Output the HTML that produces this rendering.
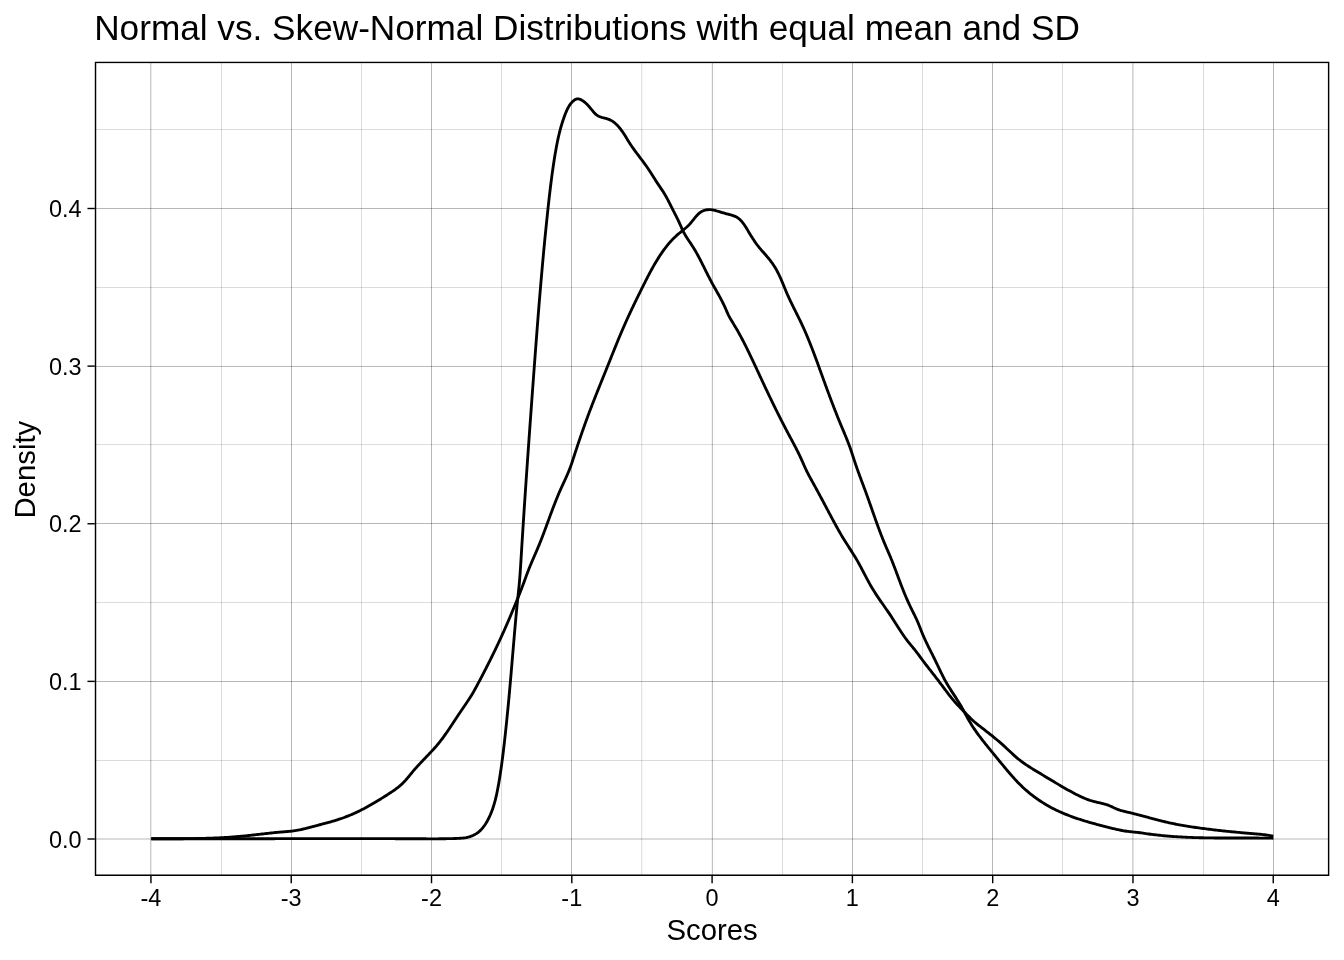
<!DOCTYPE html>
<html><head><meta charset="utf-8"><style>
html,body{margin:0;padding:0;background:#fff;}
svg{display:block;}
#wrap{will-change:transform;}
text{font-family:"Liberation Sans",sans-serif;fill:#000;}
</style></head><body><div id="wrap">
<svg width="1344" height="960" viewBox="0 0 1344 960">
<rect width="1344" height="960" fill="#fff"/>
<defs><clipPath id="pc"><rect x="94.8" y="61.7" width="1234.53" height="814.20"/></clipPath></defs>
<g clip-path="url(#pc)">
<g fill="#000"><rect x="221" y="61.70" width="1" height="814.20" fill-opacity="0.142"/><rect x="361" y="61.70" width="1" height="814.20" fill-opacity="0.143"/><rect x="501" y="61.70" width="1" height="814.20" fill-opacity="0.143"/><rect x="641" y="61.70" width="1" height="814.20" fill-opacity="0.116"/><rect x="642" y="61.70" width="1" height="814.20" fill-opacity="0.026"/><rect x="782" y="61.70" width="1" height="814.20" fill-opacity="0.142"/><rect x="922" y="61.70" width="1" height="814.20" fill-opacity="0.142"/><rect x="1062" y="61.70" width="1" height="814.20" fill-opacity="0.142"/><rect x="1203" y="61.70" width="1" height="814.20" fill-opacity="0.142"/><rect x="94.80" y="760" width="1234.53" height="1" fill-opacity="0.142"/><rect x="94.80" y="602" width="1234.53" height="1" fill-opacity="0.142"/><rect x="94.80" y="444" width="1234.53" height="1" fill-opacity="0.134"/><rect x="94.80" y="445" width="1234.53" height="1" fill-opacity="0.009"/><rect x="94.80" y="287" width="1234.53" height="1" fill-opacity="0.143"/><rect x="94.80" y="129" width="1234.53" height="1" fill-opacity="0.142"/></g>
<g fill="#000"><rect x="150" y="61.70" width="1" height="814.20" fill-opacity="0.202"/><rect x="151" y="61.70" width="1" height="814.20" fill-opacity="0.083"/><rect x="291" y="61.70" width="1" height="814.20" fill-opacity="0.285"/><rect x="431" y="61.70" width="1" height="814.20" fill-opacity="0.285"/><rect x="571" y="61.70" width="1" height="814.20" fill-opacity="0.285"/><rect x="711" y="61.70" width="1" height="814.20" fill-opacity="0.043"/><rect x="712" y="61.70" width="1" height="814.20" fill-opacity="0.243"/><rect x="852" y="61.70" width="1" height="814.20" fill-opacity="0.285"/><rect x="992" y="61.70" width="1" height="814.20" fill-opacity="0.285"/><rect x="1132" y="61.70" width="1" height="814.20" fill-opacity="0.172"/><rect x="1133" y="61.70" width="1" height="814.20" fill-opacity="0.112"/><rect x="1273" y="61.70" width="1" height="814.20" fill-opacity="0.285"/><rect x="94.80" y="838" width="1234.53" height="1" fill-opacity="0.143"/><rect x="94.80" y="839" width="1234.53" height="1" fill-opacity="0.143"/><rect x="94.80" y="681" width="1234.53" height="1" fill-opacity="0.285"/><rect x="94.80" y="523" width="1234.53" height="1" fill-opacity="0.285"/><rect x="94.80" y="365" width="1234.53" height="1" fill-opacity="0.017"/><rect x="94.80" y="366" width="1234.53" height="1" fill-opacity="0.267"/><rect x="94.80" y="208" width="1234.53" height="1" fill-opacity="0.285"/></g>
<g fill="none" stroke="#000" stroke-width="2.85" stroke-linejoin="round" stroke-linecap="butt">
<path d="M151.30,838.70 L152.80,838.70 L154.30,838.71 L155.80,838.71 L157.30,838.72 L158.80,838.72 L160.30,838.72 L161.80,838.73 L163.30,838.73 L164.81,838.74 L166.31,838.74 L167.81,838.74 L169.31,838.74 L170.81,838.74 L172.31,838.74 L173.81,838.74 L175.31,838.74 L176.81,838.73 L178.31,838.73 L179.81,838.72 L181.31,838.71 L182.81,838.70 L184.31,838.69 L185.81,838.68 L187.31,838.66 L188.81,838.64 L190.31,838.63 L191.81,838.61 L193.31,838.58 L194.82,838.56 L196.32,838.53 L197.82,838.50 L199.32,838.47 L200.82,838.44 L202.32,838.40 L203.82,838.36 L205.32,838.32 L206.82,838.27 L208.32,838.22 L209.82,838.17 L211.32,838.12 L212.81,838.06 L214.31,838.00 L215.81,837.94 L217.31,837.87 L218.81,837.80 L220.31,837.72 L221.81,837.65 L223.31,837.56 L224.80,837.48 L226.30,837.39 L227.80,837.30 L229.30,837.20 L230.79,837.10 L232.29,836.99 L233.79,836.88 L235.28,836.77 L236.78,836.65 L238.28,836.52 L239.77,836.39 L241.27,836.26 L242.76,836.12 L244.25,835.98 L245.75,835.83 L247.24,835.68 L248.73,835.52 L250.22,835.36 L251.72,835.20 L253.21,835.03 L254.70,834.87 L256.19,834.70 L257.68,834.53 L259.17,834.35 L260.66,834.18 L262.15,834.01 L263.64,833.84 L265.13,833.67 L266.62,833.50 L268.11,833.33 L269.61,833.17 L271.10,833.00 L272.59,832.85 L274.08,832.69 L275.58,832.54 L277.07,832.40 L278.56,832.26 L280.06,832.13 L281.55,832.00 L283.05,831.88 L284.55,831.76 L286.04,831.65 L287.54,831.54 L289.03,831.41 L290.53,831.26 L292.02,831.09 L293.51,830.90 L294.99,830.68 L296.47,830.43 L297.95,830.16 L299.42,829.87 L300.89,829.57 L302.35,829.24 L303.81,828.90 L305.27,828.55 L306.73,828.19 L308.18,827.82 L309.64,827.44 L311.09,827.06 L312.54,826.67 L313.99,826.29 L315.44,825.90 L316.89,825.51 L318.34,825.13 L319.79,824.75 L321.24,824.36 L322.69,823.98 L324.14,823.60 L325.59,823.21 L327.04,822.82 L328.49,822.42 L329.93,822.02 L331.38,821.61 L332.82,821.20 L334.26,820.77 L335.69,820.34 L337.13,819.90 L338.56,819.44 L339.98,818.97 L341.40,818.49 L342.82,817.99 L344.23,817.48 L345.63,816.95 L347.03,816.40 L348.42,815.84 L349.81,815.27 L351.19,814.69 L352.57,814.09 L353.94,813.48 L355.31,812.86 L356.67,812.23 L358.03,811.59 L359.38,810.94 L360.72,810.27 L362.06,809.60 L363.40,808.91 L364.73,808.22 L366.05,807.51 L367.37,806.80 L368.68,806.07 L369.99,805.34 L371.29,804.59 L372.59,803.84 L373.89,803.08 L375.18,802.31 L376.46,801.54 L377.74,800.76 L379.02,799.97 L380.30,799.18 L381.57,798.39 L382.84,797.59 L384.11,796.79 L385.38,795.99 L386.65,795.18 L387.91,794.38 L389.17,793.56 L390.43,792.74 L391.68,791.92 L392.92,791.07 L394.16,790.22 L395.38,789.35 L396.58,788.45 L397.77,787.54 L398.95,786.60 L400.10,785.64 L401.22,784.65 L402.32,783.63 L403.39,782.58 L404.43,781.49 L405.45,780.39 L406.44,779.26 L407.41,778.12 L408.37,776.97 L409.33,775.81 L410.28,774.65 L411.23,773.49 L412.19,772.33 L413.15,771.18 L414.13,770.05 L415.11,768.91 L416.11,767.79 L417.11,766.67 L418.12,765.56 L419.13,764.46 L420.16,763.36 L421.19,762.27 L422.22,761.18 L423.25,760.09 L424.29,759.01 L425.33,757.92 L426.37,756.84 L427.41,755.76 L428.44,754.67 L429.48,753.58 L430.51,752.49 L431.53,751.40 L432.55,750.30 L433.56,749.19 L434.57,748.07 L435.56,746.95 L436.55,745.82 L437.52,744.67 L438.48,743.52 L439.43,742.36 L440.36,741.18 L441.28,739.99 L442.18,738.80 L443.07,737.59 L443.96,736.38 L444.83,735.16 L445.69,733.93 L446.54,732.69 L447.39,731.46 L448.23,730.21 L449.07,728.97 L449.90,727.72 L450.73,726.47 L451.56,725.22 L452.38,723.96 L453.21,722.71 L454.03,721.46 L454.86,720.20 L455.68,718.95 L456.51,717.70 L457.34,716.45 L458.17,715.20 L459.00,713.95 L459.84,712.71 L460.69,711.47 L461.54,710.23 L462.39,708.99 L463.24,707.76 L464.10,706.53 L464.95,705.29 L465.80,704.05 L466.64,702.81 L467.48,701.57 L468.31,700.32 L469.13,699.06 L469.94,697.80 L470.74,696.53 L471.53,695.25 L472.30,693.96 L473.06,692.67 L473.80,691.37 L474.54,690.06 L475.27,688.75 L475.99,687.43 L476.70,686.11 L477.41,684.79 L478.11,683.46 L478.81,682.13 L479.51,680.81 L480.21,679.48 L480.91,678.15 L481.60,676.82 L482.30,675.49 L482.99,674.16 L483.68,672.83 L484.37,671.49 L485.05,670.16 L485.74,668.82 L486.42,667.49 L487.10,666.15 L487.78,664.81 L488.46,663.47 L489.13,662.13 L489.81,660.79 L490.48,659.45 L491.14,658.10 L491.81,656.76 L492.47,655.41 L493.13,654.07 L493.79,652.72 L494.44,651.37 L495.10,650.02 L495.75,648.66 L496.39,647.31 L497.04,645.95 L497.68,644.60 L498.32,643.24 L498.95,641.88 L499.58,640.52 L500.21,639.16 L500.84,637.79 L501.46,636.43 L502.08,635.06 L502.70,633.69 L503.32,632.33 L503.93,630.96 L504.54,629.59 L505.15,628.21 L505.75,626.84 L506.36,625.47 L506.96,624.09 L507.55,622.71 L508.15,621.34 L508.74,619.96 L509.33,618.58 L509.92,617.20 L510.51,615.82 L511.09,614.44 L511.68,613.05 L512.26,611.67 L512.83,610.28 L513.41,608.90 L513.98,607.51 L514.56,606.13 L515.13,604.74 L515.69,603.35 L516.26,601.96 L516.83,600.57 L517.39,599.18 L517.95,597.79 L518.51,596.39 L519.07,595.00 L519.62,593.61 L520.17,592.21 L520.72,590.81 L521.26,589.41 L521.80,588.01 L522.34,586.61 L522.87,585.21 L523.39,583.80 L523.91,582.39 L524.42,580.98 L524.94,579.57 L525.45,578.17 L525.97,576.76 L526.48,575.35 L527.01,573.94 L527.54,572.54 L528.07,571.13 L528.62,569.74 L529.17,568.34 L529.73,566.95 L530.30,565.56 L530.88,564.18 L531.46,562.80 L532.05,561.41 L532.64,560.04 L533.24,558.66 L533.83,557.28 L534.43,555.90 L535.03,554.53 L535.63,553.15 L536.22,551.77 L536.81,550.39 L537.40,549.01 L537.98,547.63 L538.56,546.25 L539.13,544.86 L539.70,543.47 L540.26,542.08 L540.81,540.68 L541.36,539.28 L541.90,537.89 L542.44,536.49 L542.98,535.08 L543.51,533.68 L544.04,532.28 L544.56,530.87 L545.09,529.47 L545.61,528.06 L546.13,526.65 L546.65,525.24 L547.16,523.83 L547.68,522.42 L548.20,521.02 L548.71,519.61 L549.23,518.20 L549.75,516.79 L550.26,515.38 L550.78,513.97 L551.31,512.57 L551.83,511.16 L552.36,509.76 L552.89,508.35 L553.42,506.95 L553.96,505.55 L554.50,504.15 L555.05,502.75 L555.60,501.36 L556.16,499.96 L556.72,498.57 L557.28,497.18 L557.86,495.80 L558.44,494.41 L559.03,493.03 L559.62,491.65 L560.23,490.28 L560.84,488.91 L561.45,487.54 L562.08,486.18 L562.70,484.81 L563.33,483.45 L563.96,482.09 L564.59,480.73 L565.22,479.36 L565.84,478.00 L566.45,476.63 L567.06,475.26 L567.66,473.88 L568.25,472.50 L568.82,471.11 L569.38,469.72 L569.92,468.32 L570.45,466.92 L570.96,465.51 L571.45,464.09 L571.94,462.67 L572.41,461.24 L572.88,459.82 L573.34,458.39 L573.80,456.96 L574.27,455.54 L574.73,454.11 L575.20,452.68 L575.67,451.26 L576.13,449.83 L576.61,448.41 L577.08,446.98 L577.55,445.56 L578.03,444.13 L578.50,442.71 L578.98,441.29 L579.46,439.87 L579.94,438.45 L580.43,437.03 L580.91,435.61 L581.40,434.19 L581.89,432.77 L582.38,431.35 L582.88,429.94 L583.38,428.52 L583.88,427.11 L584.38,425.69 L584.88,424.28 L585.39,422.87 L585.90,421.46 L586.41,420.04 L586.93,418.64 L587.45,417.23 L587.97,415.82 L588.49,414.41 L589.02,413.01 L589.55,411.61 L590.08,410.20 L590.62,408.80 L591.15,407.40 L591.69,406.00 L592.24,404.60 L592.78,403.20 L593.32,401.80 L593.87,400.41 L594.42,399.01 L594.97,397.61 L595.52,396.22 L596.08,394.82 L596.63,393.43 L597.19,392.04 L597.75,390.64 L598.30,389.25 L598.86,387.86 L599.42,386.47 L599.98,385.07 L600.54,383.68 L601.11,382.29 L601.67,380.90 L602.23,379.51 L602.79,378.12 L603.35,376.72 L603.92,375.33 L604.48,373.94 L605.04,372.55 L605.60,371.16 L606.16,369.77 L606.72,368.37 L607.28,366.98 L607.84,365.59 L608.40,364.20 L608.95,362.80 L609.51,361.41 L610.07,360.02 L610.62,358.62 L611.18,357.23 L611.74,355.84 L612.29,354.44 L612.85,353.05 L613.41,351.66 L613.97,350.26 L614.53,348.87 L615.09,347.48 L615.66,346.09 L616.22,344.70 L616.79,343.31 L617.35,341.92 L617.92,340.53 L618.49,339.15 L619.07,337.76 L619.65,336.37 L620.23,334.99 L620.81,333.61 L621.39,332.22 L621.98,330.84 L622.57,329.46 L623.17,328.09 L623.76,326.71 L624.37,325.34 L624.97,323.96 L625.58,322.59 L626.19,321.22 L626.81,319.85 L627.43,318.49 L628.06,317.12 L628.68,315.76 L629.31,314.40 L629.95,313.04 L630.58,311.68 L631.22,310.32 L631.86,308.97 L632.51,307.61 L633.16,306.26 L633.80,304.90 L634.46,303.55 L635.11,302.20 L635.77,300.85 L636.42,299.50 L637.08,298.15 L637.74,296.81 L638.40,295.46 L639.07,294.11 L639.73,292.77 L640.40,291.43 L641.07,290.08 L641.73,288.74 L642.40,287.39 L643.07,286.05 L643.74,284.71 L644.42,283.37 L645.09,282.03 L645.77,280.69 L646.45,279.35 L647.13,278.01 L647.82,276.68 L648.51,275.35 L649.21,274.02 L649.91,272.69 L650.62,271.37 L651.33,270.05 L652.05,268.73 L652.78,267.42 L653.52,266.12 L654.26,264.81 L655.02,263.52 L655.78,262.22 L656.55,260.94 L657.33,259.66 L658.13,258.38 L658.93,257.12 L659.74,255.85 L660.57,254.60 L661.41,253.36 L662.26,252.12 L663.13,250.90 L664.01,249.68 L664.90,248.48 L665.81,247.28 L666.73,246.10 L667.68,244.93 L668.64,243.78 L669.61,242.64 L670.61,241.52 L671.62,240.41 L672.66,239.32 L673.71,238.25 L674.78,237.20 L675.87,236.18 L676.99,235.17 L678.12,234.19 L679.27,233.23 L680.43,232.28 L681.60,231.33 L682.77,230.39 L683.93,229.44 L685.08,228.48 L686.22,227.50 L687.33,226.49 L688.41,225.45 L689.46,224.38 L690.47,223.27 L691.44,222.12 L692.39,220.96 L693.32,219.79 L694.26,218.61 L695.20,217.45 L696.17,216.30 L697.18,215.19 L698.23,214.12 L699.35,213.12 L700.54,212.21 L701.81,211.41 L703.16,210.76 L704.58,210.27 L706.04,209.92 L707.53,209.72 L709.02,209.64 L710.52,209.68 L712.02,209.84 L713.49,210.09 L714.96,210.43 L716.40,210.83 L717.84,211.25 L719.28,211.69 L720.71,212.13 L722.15,212.56 L723.59,212.98 L725.04,213.38 L726.49,213.76 L727.94,214.13 L729.40,214.50 L730.84,214.90 L732.28,215.33 L733.70,215.82 L735.09,216.39 L736.43,217.06 L737.72,217.83 L738.93,218.72 L740.06,219.70 L741.11,220.77 L742.11,221.89 L743.04,223.07 L743.92,224.28 L744.76,225.52 L745.58,226.78 L746.36,228.06 L747.14,229.35 L747.91,230.63 L748.68,231.92 L749.45,233.21 L750.22,234.50 L751.00,235.78 L751.79,237.05 L752.59,238.32 L753.41,239.58 L754.24,240.83 L755.09,242.07 L755.95,243.30 L756.84,244.50 L757.75,245.70 L758.69,246.87 L759.64,248.03 L760.61,249.17 L761.59,250.31 L762.58,251.44 L763.57,252.56 L764.57,253.69 L765.56,254.81 L766.54,255.95 L767.52,257.09 L768.48,258.24 L769.43,259.40 L770.35,260.59 L771.25,261.79 L772.13,263.00 L772.98,264.24 L773.81,265.49 L774.62,266.75 L775.40,268.04 L776.15,269.33 L776.88,270.64 L777.59,271.97 L778.27,273.30 L778.93,274.65 L779.57,276.01 L780.20,277.37 L780.81,278.74 L781.41,280.12 L782.00,281.50 L782.58,282.88 L783.15,284.27 L783.72,285.66 L784.29,287.04 L784.86,288.43 L785.43,289.82 L786.01,291.20 L786.60,292.59 L787.19,293.96 L787.79,295.34 L788.41,296.71 L789.03,298.07 L789.67,299.43 L790.31,300.79 L790.95,302.14 L791.61,303.49 L792.27,304.84 L792.93,306.19 L793.60,307.53 L794.27,308.87 L794.94,310.22 L795.61,311.56 L796.28,312.90 L796.95,314.24 L797.62,315.59 L798.29,316.93 L798.95,318.28 L799.61,319.62 L800.27,320.97 L800.91,322.33 L801.56,323.68 L802.19,325.04 L802.82,326.41 L803.44,327.77 L804.05,329.14 L804.66,330.51 L805.27,331.89 L805.86,333.26 L806.45,334.64 L807.04,336.03 L807.62,337.41 L808.19,338.80 L808.76,340.18 L809.32,341.57 L809.88,342.97 L810.44,344.36 L810.99,345.76 L811.54,347.15 L812.08,348.55 L812.62,349.95 L813.16,351.35 L813.69,352.76 L814.22,354.16 L814.75,355.56 L815.27,356.97 L815.80,358.38 L816.32,359.78 L816.83,361.19 L817.35,362.60 L817.86,364.01 L818.38,365.42 L818.89,366.83 L819.40,368.24 L819.91,369.65 L820.42,371.06 L820.93,372.48 L821.44,373.89 L821.95,375.30 L822.46,376.71 L822.97,378.12 L823.48,379.53 L823.99,380.94 L824.51,382.35 L825.02,383.76 L825.54,385.17 L826.05,386.58 L826.57,387.99 L827.09,389.40 L827.61,390.81 L828.13,392.21 L828.65,393.62 L829.18,395.02 L829.70,396.43 L830.23,397.83 L830.76,399.24 L831.29,400.64 L831.82,402.04 L832.36,403.45 L832.90,404.85 L833.44,406.25 L833.98,407.65 L834.52,409.05 L835.07,410.44 L835.62,411.84 L836.17,413.24 L836.72,414.63 L837.27,416.03 L837.83,417.42 L838.39,418.81 L838.96,420.20 L839.52,421.59 L840.09,422.98 L840.66,424.37 L841.24,425.75 L841.82,427.14 L842.40,428.52 L842.98,429.90 L843.56,431.29 L844.14,432.67 L844.72,434.06 L845.30,435.44 L845.87,436.83 L846.44,438.22 L847.00,439.61 L847.55,441.00 L848.10,442.40 L848.64,443.80 L849.17,445.20 L849.69,446.61 L850.19,448.03 L850.69,449.44 L851.17,450.86 L851.65,452.29 L852.12,453.71 L852.58,455.14 L853.05,456.56 L853.51,457.99 L853.98,459.42 L854.45,460.84 L854.93,462.26 L855.41,463.69 L855.89,465.11 L856.38,466.53 L856.87,467.94 L857.37,469.36 L857.87,470.77 L858.38,472.18 L858.89,473.59 L859.41,475.00 L859.93,476.41 L860.45,477.82 L860.97,479.22 L861.50,480.63 L862.03,482.03 L862.55,483.44 L863.08,484.84 L863.61,486.25 L864.13,487.66 L864.66,489.06 L865.18,490.47 L865.70,491.88 L866.21,493.29 L866.72,494.70 L867.23,496.11 L867.74,497.52 L868.24,498.93 L868.74,500.35 L869.25,501.76 L869.74,503.18 L870.24,504.59 L870.74,506.01 L871.24,507.43 L871.73,508.84 L872.23,510.26 L872.72,511.67 L873.22,513.09 L873.72,514.51 L874.22,515.92 L874.72,517.34 L875.22,518.75 L875.72,520.16 L876.23,521.58 L876.73,522.99 L877.24,524.40 L877.76,525.81 L878.27,527.22 L878.79,528.63 L879.32,530.03 L879.84,531.44 L880.37,532.84 L880.91,534.24 L881.45,535.64 L882.00,537.04 L882.55,538.43 L883.11,539.83 L883.68,541.22 L884.25,542.60 L884.83,543.99 L885.41,545.37 L886.00,546.75 L886.60,548.13 L887.19,549.51 L887.79,550.88 L888.38,552.26 L888.98,553.64 L889.57,555.02 L890.16,556.40 L890.74,557.78 L891.31,559.17 L891.88,560.56 L892.43,561.95 L892.99,563.35 L893.53,564.74 L894.07,566.14 L894.61,567.55 L895.14,568.95 L895.67,570.35 L896.19,571.76 L896.71,573.17 L897.24,574.57 L897.76,575.98 L898.28,577.39 L898.80,578.79 L899.33,580.20 L899.85,581.61 L900.38,583.01 L900.92,584.41 L901.45,585.81 L902.00,587.21 L902.54,588.61 L903.10,590.00 L903.66,591.40 L904.22,592.79 L904.79,594.17 L905.37,595.56 L905.96,596.94 L906.55,598.32 L907.15,599.69 L907.76,601.07 L908.37,602.43 L909.00,603.80 L909.63,605.16 L910.27,606.51 L910.92,607.87 L911.58,609.21 L912.25,610.56 L912.93,611.90 L913.60,613.24 L914.27,614.58 L914.94,615.92 L915.60,617.27 L916.24,618.63 L916.86,620.00 L917.46,621.37 L918.05,622.75 L918.62,624.14 L919.18,625.53 L919.73,626.93 L920.28,628.32 L920.83,629.72 L921.38,631.12 L921.94,632.51 L922.51,633.90 L923.09,635.28 L923.69,636.65 L924.30,638.03 L924.92,639.39 L925.55,640.75 L926.19,642.11 L926.84,643.46 L927.50,644.81 L928.16,646.16 L928.82,647.51 L929.49,648.85 L930.16,650.19 L930.84,651.53 L931.51,652.87 L932.19,654.21 L932.86,655.55 L933.53,656.90 L934.20,658.24 L934.86,659.59 L935.51,660.94 L936.17,662.29 L936.81,663.64 L937.46,665.00 L938.10,666.35 L938.75,667.71 L939.39,669.06 L940.04,670.41 L940.69,671.77 L941.35,673.11 L942.02,674.46 L942.69,675.80 L943.37,677.14 L944.06,678.47 L944.76,679.80 L945.48,681.12 L946.21,682.43 L946.95,683.73 L947.71,685.03 L948.48,686.31 L949.28,687.59 L950.08,688.85 L950.89,690.12 L951.71,691.37 L952.53,692.63 L953.35,693.88 L954.18,695.14 L955.00,696.39 L955.82,697.65 L956.63,698.91 L957.43,700.18 L958.23,701.45 L959.02,702.73 L959.80,704.01 L960.57,705.30 L961.32,706.59 L962.07,707.90 L962.80,709.20 L963.53,710.52 L964.24,711.84 L964.95,713.16 L965.66,714.49 L966.37,715.81 L967.08,717.13 L967.80,718.44 L968.54,719.75 L969.29,721.05 L970.05,722.34 L970.84,723.62 L971.63,724.89 L972.44,726.16 L973.26,727.41 L974.09,728.66 L974.94,729.90 L975.80,731.13 L976.66,732.36 L977.54,733.58 L978.43,734.79 L979.32,735.99 L980.22,737.19 L981.13,738.39 L982.05,739.58 L982.97,740.76 L983.89,741.94 L984.82,743.12 L985.76,744.29 L986.70,745.46 L987.64,746.63 L988.59,747.79 L989.54,748.96 L990.48,750.12 L991.43,751.28 L992.38,752.44 L993.33,753.60 L994.28,754.76 L995.23,755.93 L996.18,757.09 L997.14,758.25 L998.09,759.41 L999.04,760.57 L999.99,761.73 L1000.95,762.89 L1001.90,764.04 L1002.86,765.20 L1003.82,766.35 L1004.78,767.51 L1005.74,768.66 L1006.70,769.81 L1007.67,770.96 L1008.64,772.10 L1009.61,773.24 L1010.59,774.38 L1011.58,775.51 L1012.57,776.64 L1013.57,777.76 L1014.57,778.87 L1015.59,779.98 L1016.61,781.07 L1017.65,782.16 L1018.69,783.24 L1019.75,784.30 L1020.82,785.36 L1021.90,786.40 L1022.99,787.42 L1024.10,788.44 L1025.21,789.44 L1026.34,790.43 L1027.48,791.41 L1028.63,792.38 L1029.79,793.33 L1030.96,794.27 L1032.14,795.19 L1033.33,796.10 L1034.53,797.00 L1035.74,797.89 L1036.96,798.76 L1038.19,799.62 L1039.43,800.46 L1040.68,801.30 L1041.94,802.11 L1043.21,802.92 L1044.49,803.71 L1045.77,804.48 L1047.06,805.24 L1048.37,805.99 L1049.68,806.72 L1050.99,807.44 L1052.32,808.14 L1053.65,808.83 L1054.99,809.50 L1056.34,810.16 L1057.70,810.81 L1059.06,811.44 L1060.43,812.05 L1061.80,812.66 L1063.18,813.25 L1064.56,813.83 L1065.95,814.40 L1067.35,814.95 L1068.74,815.49 L1070.15,816.03 L1071.55,816.55 L1072.97,817.06 L1074.38,817.56 L1075.80,818.05 L1077.22,818.53 L1078.64,819.01 L1080.07,819.47 L1081.50,819.93 L1082.93,820.38 L1084.36,820.82 L1085.80,821.25 L1087.24,821.68 L1088.68,822.10 L1090.12,822.52 L1091.57,822.93 L1093.01,823.33 L1094.46,823.73 L1095.90,824.13 L1097.35,824.52 L1098.80,824.91 L1100.25,825.29 L1101.70,825.67 L1103.16,826.05 L1104.61,826.43 L1106.06,826.80 L1107.52,827.17 L1108.97,827.54 L1110.42,827.91 L1111.88,828.27 L1113.34,828.63 L1114.80,828.97 L1116.26,829.31 L1117.73,829.63 L1119.19,829.94 L1120.67,830.24 L1122.14,830.52 L1123.62,830.78 L1125.10,831.03 L1126.58,831.25 L1128.07,831.45 L1129.56,831.63 L1131.05,831.79 L1132.54,831.94 L1134.04,832.08 L1135.53,832.22 L1137.02,832.37 L1138.52,832.54 L1140.00,832.72 L1141.49,832.93 L1142.97,833.16 L1144.46,833.39 L1145.94,833.61 L1147.43,833.82 L1148.91,834.03 L1150.40,834.22 L1151.89,834.42 L1153.38,834.60 L1154.87,834.78 L1156.36,834.96 L1157.85,835.12 L1159.34,835.28 L1160.83,835.44 L1162.33,835.59 L1163.82,835.73 L1165.31,835.87 L1166.81,836.00 L1168.30,836.13 L1169.80,836.25 L1171.30,836.36 L1172.79,836.47 L1174.29,836.58 L1175.79,836.68 L1177.28,836.78 L1178.78,836.87 L1180.28,836.95 L1181.78,837.04 L1183.28,837.11 L1184.78,837.19 L1186.27,837.26 L1187.77,837.32 L1189.27,837.39 L1190.77,837.44 L1192.27,837.50 L1193.77,837.55 L1195.27,837.60 L1196.77,837.64 L1198.27,837.68 L1199.77,837.72 L1201.27,837.76 L1202.77,837.79 L1204.27,837.82 L1205.77,837.85 L1207.27,837.87 L1208.77,837.89 L1210.27,837.91 L1211.77,837.93 L1213.27,837.95 L1214.77,837.96 L1216.28,837.97 L1217.78,837.98 L1219.28,837.99 L1220.78,838.00 L1222.28,838.00 L1223.78,838.01 L1225.28,838.01 L1226.78,838.02 L1228.28,838.02 L1229.78,838.02 L1231.28,838.02 L1232.78,838.02 L1234.28,838.02 L1235.78,838.02 L1237.28,838.02 L1238.78,838.01 L1240.28,838.01 L1241.78,838.01 L1243.29,838.01 L1244.79,838.01 L1246.29,838.01 L1247.79,838.01 L1249.29,838.01 L1250.79,838.01 L1252.29,838.02 L1253.79,838.02 L1255.29,838.03 L1256.79,838.03 L1258.29,838.04 L1259.79,838.05 L1261.29,838.06 L1262.79,838.07 L1264.29,838.09 L1265.79,838.11 L1267.29,838.12 L1268.79,838.15 L1270.29,838.17 L1271.79,838.19 L1273.30,838.22"/>
<path d="M151.30,838.70 L152.80,838.70 L154.30,838.70 L155.80,838.71 L157.30,838.71 L158.80,838.71 L160.30,838.71 L161.80,838.72 L163.30,838.72 L164.80,838.72 L166.30,838.72 L167.80,838.73 L169.30,838.73 L170.80,838.73 L172.30,838.73 L173.80,838.74 L175.30,838.74 L176.80,838.74 L178.30,838.74 L179.80,838.74 L181.30,838.74 L182.80,838.74 L184.30,838.75 L185.80,838.75 L187.30,838.75 L188.80,838.75 L190.30,838.75 L191.80,838.75 L193.30,838.75 L194.80,838.75 L196.30,838.75 L197.80,838.75 L199.30,838.75 L200.80,838.75 L202.30,838.75 L203.80,838.75 L205.30,838.75 L206.80,838.75 L208.30,838.75 L209.80,838.75 L211.30,838.75 L212.80,838.75 L214.30,838.75 L215.80,838.75 L217.30,838.75 L218.80,838.75 L220.30,838.75 L221.80,838.75 L223.30,838.75 L224.80,838.75 L226.30,838.74 L227.80,838.74 L229.30,838.74 L230.80,838.74 L232.30,838.74 L233.80,838.74 L235.30,838.74 L236.80,838.74 L238.30,838.73 L239.80,838.73 L241.30,838.73 L242.80,838.73 L244.30,838.73 L245.80,838.73 L247.30,838.73 L248.80,838.72 L250.30,838.72 L251.80,838.72 L253.30,838.72 L254.80,838.72 L256.30,838.72 L257.80,838.71 L259.30,838.71 L260.80,838.71 L262.30,838.71 L263.80,838.71 L265.30,838.71 L266.80,838.70 L268.30,838.70 L269.80,838.70 L271.30,838.70 L272.80,838.70 L274.30,838.70 L275.80,838.69 L277.30,838.69 L278.80,838.69 L280.30,838.69 L281.80,838.69 L283.30,838.68 L284.80,838.68 L286.30,838.68 L287.80,838.68 L289.30,838.68 L290.80,838.68 L292.30,838.67 L293.80,838.67 L295.30,838.67 L296.80,838.67 L298.30,838.67 L299.80,838.67 L301.30,838.67 L302.80,838.66 L304.30,838.66 L305.80,838.66 L307.30,838.66 L308.80,838.66 L310.30,838.66 L311.80,838.66 L313.30,838.65 L314.80,838.65 L316.30,838.65 L317.80,838.65 L319.30,838.65 L320.80,838.65 L322.30,838.65 L323.80,838.65 L325.30,838.65 L326.80,838.65 L328.30,838.64 L329.80,838.64 L331.30,838.64 L332.80,838.64 L334.30,838.64 L335.80,838.64 L337.30,838.64 L338.80,838.64 L340.30,838.64 L341.80,838.64 L343.30,838.64 L344.80,838.64 L346.30,838.64 L347.80,838.64 L349.30,838.64 L350.80,838.64 L352.30,838.64 L353.80,838.64 L355.30,838.64 L356.80,838.64 L358.30,838.64 L359.80,838.64 L361.30,838.65 L362.80,838.65 L364.30,838.65 L365.80,838.65 L367.30,838.65 L368.80,838.65 L370.30,838.65 L371.80,838.66 L373.30,838.66 L374.80,838.66 L376.30,838.66 L377.80,838.66 L379.30,838.66 L380.80,838.67 L382.30,838.67 L383.80,838.67 L385.30,838.67 L386.80,838.68 L388.30,838.68 L389.80,838.68 L391.31,838.69 L392.81,838.69 L394.31,838.69 L395.81,838.70 L397.31,838.70 L398.81,838.70 L400.31,838.71 L401.81,838.71 L403.31,838.72 L404.81,838.72 L406.31,838.72 L407.81,838.73 L409.31,838.73 L410.81,838.74 L412.31,838.74 L413.81,838.75 L415.31,838.75 L416.81,838.76 L418.31,838.77 L419.81,838.77 L421.31,838.78 L422.81,838.78 L424.31,838.79 L425.81,838.79 L427.31,838.80 L428.81,838.80 L430.31,838.81 L431.81,838.81 L433.31,838.81 L434.81,838.80 L436.31,838.80 L437.81,838.80 L439.31,838.79 L440.81,838.78 L442.31,838.76 L443.81,838.75 L445.31,838.73 L446.81,838.70 L448.31,838.68 L449.81,838.65 L451.30,838.61 L452.80,838.57 L454.30,838.53 L455.80,838.48 L457.30,838.43 L458.80,838.36 L460.30,838.27 L461.79,838.15 L463.29,838.00 L464.77,837.80 L466.25,837.55 L467.72,837.24 L469.17,836.86 L470.60,836.42 L472.01,835.89 L473.38,835.29 L474.72,834.61 L476.02,833.86 L477.27,833.03 L478.46,832.13 L479.60,831.15 L480.68,830.11 L481.71,829.02 L482.69,827.88 L483.61,826.70 L484.49,825.48 L485.32,824.24 L486.12,822.97 L486.88,821.67 L487.61,820.36 L488.31,819.04 L488.99,817.70 L489.63,816.34 L490.25,814.97 L490.83,813.60 L491.40,812.21 L491.94,810.81 L492.45,809.40 L492.94,807.98 L493.41,806.55 L493.86,805.12 L494.29,803.68 L494.69,802.24 L495.08,800.79 L495.46,799.34 L495.82,797.88 L496.16,796.42 L496.49,794.96 L496.81,793.49 L497.11,792.02 L497.41,790.55 L497.69,789.08 L497.97,787.61 L498.24,786.13 L498.51,784.66 L498.77,783.18 L499.02,781.70 L499.27,780.22 L499.52,778.74 L499.76,777.26 L499.99,775.78 L500.22,774.30 L500.45,772.81 L500.67,771.33 L500.89,769.85 L501.11,768.36 L501.32,766.88 L501.53,765.39 L501.73,763.91 L501.93,762.42 L502.13,760.93 L502.32,759.44 L502.52,757.96 L502.70,756.47 L502.89,754.98 L503.08,753.49 L503.26,752.00 L503.44,750.51 L503.62,749.02 L503.79,747.53 L503.97,746.04 L504.14,744.55 L504.31,743.06 L504.48,741.57 L504.65,740.08 L504.82,738.59 L504.98,737.10 L505.15,735.61 L505.31,734.12 L505.47,732.63 L505.63,731.14 L505.79,729.65 L505.95,728.15 L506.11,726.66 L506.26,725.17 L506.42,723.68 L506.57,722.19 L506.72,720.69 L506.87,719.20 L507.02,717.71 L507.17,716.22 L507.32,714.72 L507.47,713.23 L507.61,711.74 L507.76,710.25 L507.90,708.75 L508.05,707.26 L508.19,705.77 L508.33,704.27 L508.47,702.78 L508.61,701.29 L508.75,699.79 L508.89,698.30 L509.03,696.80 L509.16,695.31 L509.30,693.82 L509.44,692.32 L509.57,690.83 L509.70,689.33 L509.84,687.84 L509.97,686.35 L510.10,684.85 L510.24,683.36 L510.37,681.86 L510.50,680.37 L510.63,678.88 L510.76,677.38 L510.89,675.89 L511.02,674.39 L511.15,672.90 L511.27,671.40 L511.40,669.91 L511.53,668.41 L511.66,666.92 L511.79,665.42 L511.91,663.93 L512.04,662.44 L512.17,660.94 L512.29,659.45 L512.42,657.95 L512.54,656.46 L512.67,654.96 L512.80,653.47 L512.92,651.97 L513.05,650.48 L513.17,648.98 L513.30,647.49 L513.42,645.99 L513.55,644.50 L513.68,643.00 L513.80,641.51 L513.93,640.01 L514.05,638.52 L514.18,637.02 L514.31,635.53 L514.43,634.04 L514.56,632.54 L514.69,631.05 L514.82,629.55 L514.95,628.06 L515.08,626.56 L515.21,625.07 L515.35,623.58 L515.48,622.08 L515.61,620.59 L515.75,619.09 L515.89,617.60 L516.02,616.11 L516.16,614.61 L516.30,613.12 L516.45,611.63 L516.59,610.13 L516.74,608.64 L516.88,607.15 L517.03,605.65 L517.18,604.16 L517.34,602.67 L517.49,601.18 L517.65,599.69 L517.80,598.19 L517.96,596.70 L518.12,595.21 L518.28,593.72 L518.43,592.23 L518.59,590.73 L518.74,589.24 L518.89,587.75 L519.03,586.26 L519.17,584.76 L519.31,583.27 L519.44,581.77 L519.57,580.28 L519.69,578.79 L519.81,577.29 L519.92,575.79 L520.03,574.30 L520.14,572.80 L520.25,571.31 L520.35,569.81 L520.45,568.31 L520.55,566.82 L520.65,565.32 L520.74,563.82 L520.84,562.33 L520.93,560.83 L521.02,559.33 L521.11,557.83 L521.20,556.34 L521.30,554.84 L521.39,553.34 L521.48,551.84 L521.57,550.35 L521.66,548.85 L521.76,547.35 L521.85,545.86 L521.94,544.36 L522.04,542.86 L522.13,541.36 L522.22,539.87 L522.32,538.37 L522.41,536.87 L522.51,535.38 L522.60,533.88 L522.70,532.38 L522.79,530.89 L522.89,529.39 L522.98,527.89 L523.08,526.39 L523.18,524.90 L523.27,523.40 L523.37,521.90 L523.47,520.41 L523.56,518.91 L523.66,517.41 L523.76,515.92 L523.86,514.42 L523.95,512.92 L524.05,511.43 L524.15,509.93 L524.25,508.43 L524.35,506.94 L524.45,505.44 L524.55,503.94 L524.65,502.44 L524.75,500.95 L524.85,499.45 L524.95,497.95 L525.05,496.46 L525.15,494.96 L525.25,493.46 L525.35,491.97 L525.45,490.47 L525.55,488.97 L525.65,487.48 L525.75,485.98 L525.86,484.49 L525.96,482.99 L526.06,481.49 L526.16,480.00 L526.26,478.50 L526.37,477.00 L526.47,475.51 L526.57,474.01 L526.68,472.51 L526.78,471.02 L526.88,469.52 L526.99,468.02 L527.09,466.53 L527.19,465.03 L527.30,463.53 L527.40,462.04 L527.51,460.54 L527.61,459.05 L527.71,457.55 L527.82,456.05 L527.92,454.56 L528.03,453.06 L528.14,451.56 L528.24,450.07 L528.35,448.57 L528.45,447.07 L528.56,445.58 L528.66,444.08 L528.77,442.59 L528.88,441.09 L528.98,439.59 L529.09,438.10 L529.19,436.60 L529.30,435.10 L529.41,433.61 L529.52,432.11 L529.62,430.62 L529.73,429.12 L529.84,427.62 L529.94,426.13 L530.05,424.63 L530.16,423.13 L530.27,421.64 L530.37,420.14 L530.48,418.65 L530.59,417.15 L530.70,415.65 L530.81,414.16 L530.92,412.66 L531.02,411.17 L531.13,409.67 L531.24,408.17 L531.35,406.68 L531.46,405.18 L531.57,403.69 L531.68,402.19 L531.79,400.69 L531.89,399.20 L532.00,397.70 L532.11,396.20 L532.22,394.71 L532.33,393.21 L532.44,391.72 L532.55,390.22 L532.66,388.72 L532.77,387.23 L532.88,385.73 L532.99,384.24 L533.10,382.74 L533.21,381.24 L533.32,379.75 L533.43,378.25 L533.54,376.76 L533.65,375.26 L533.76,373.76 L533.87,372.27 L533.98,370.77 L534.09,369.28 L534.20,367.78 L534.31,366.29 L534.43,364.79 L534.54,363.29 L534.65,361.80 L534.76,360.30 L534.87,358.81 L534.98,357.31 L535.09,355.81 L535.21,354.32 L535.32,352.82 L535.43,351.33 L535.54,349.83 L535.66,348.33 L535.77,346.84 L535.88,345.34 L536.00,343.85 L536.11,342.35 L536.22,340.86 L536.34,339.36 L536.45,337.86 L536.57,336.37 L536.68,334.87 L536.80,333.38 L536.91,331.88 L537.03,330.39 L537.14,328.89 L537.26,327.40 L537.38,325.90 L537.49,324.40 L537.61,322.91 L537.73,321.41 L537.84,319.92 L537.96,318.42 L538.08,316.93 L538.20,315.43 L538.32,313.94 L538.44,312.44 L538.56,310.95 L538.68,309.45 L538.80,307.96 L538.92,306.46 L539.04,304.97 L539.16,303.47 L539.28,301.98 L539.41,300.48 L539.53,298.99 L539.65,297.49 L539.78,296.00 L539.90,294.50 L540.03,293.01 L540.15,291.51 L540.28,290.02 L540.40,288.52 L540.53,287.03 L540.66,285.53 L540.78,284.04 L540.91,282.54 L541.04,281.05 L541.17,279.55 L541.30,278.06 L541.43,276.57 L541.56,275.07 L541.69,273.58 L541.82,272.08 L541.95,270.59 L542.09,269.09 L542.22,267.60 L542.35,266.11 L542.49,264.61 L542.62,263.12 L542.76,261.62 L542.89,260.13 L543.03,258.64 L543.17,257.14 L543.31,255.65 L543.44,254.16 L543.58,252.66 L543.72,251.17 L543.86,249.67 L544.00,248.18 L544.15,246.69 L544.29,245.19 L544.43,243.70 L544.57,242.21 L544.72,240.72 L544.86,239.22 L545.01,237.73 L545.16,236.24 L545.30,234.74 L545.45,233.25 L545.60,231.76 L545.75,230.27 L545.90,228.77 L546.05,227.28 L546.20,225.79 L546.35,224.30 L546.51,222.80 L546.66,221.31 L546.81,219.82 L546.97,218.33 L547.13,216.84 L547.28,215.34 L547.44,213.85 L547.60,212.36 L547.76,210.87 L547.92,209.38 L548.08,207.89 L548.24,206.40 L548.40,204.90 L548.57,203.41 L548.73,201.92 L548.90,200.43 L549.06,198.94 L549.23,197.45 L549.40,195.96 L549.57,194.47 L549.75,192.98 L549.92,191.49 L550.10,190.00 L550.28,188.51 L550.46,187.02 L550.64,185.53 L550.82,184.04 L551.01,182.56 L551.20,181.07 L551.39,179.58 L551.59,178.09 L551.78,176.61 L551.98,175.12 L552.18,173.63 L552.39,172.15 L552.60,170.66 L552.81,169.18 L553.02,167.69 L553.24,166.21 L553.46,164.72 L553.68,163.24 L553.91,161.76 L554.14,160.27 L554.37,158.79 L554.61,157.31 L554.85,155.83 L555.10,154.35 L555.34,152.87 L555.60,151.39 L555.86,149.92 L556.12,148.44 L556.39,146.96 L556.67,145.49 L556.95,144.02 L557.25,142.55 L557.55,141.08 L557.85,139.61 L558.17,138.14 L558.50,136.68 L558.84,135.22 L559.19,133.76 L559.54,132.30 L559.91,130.85 L560.30,129.40 L560.69,127.95 L561.10,126.51 L561.52,125.07 L561.95,123.63 L562.40,122.20 L562.86,120.77 L563.34,119.35 L563.83,117.93 L564.34,116.52 L564.86,115.12 L565.40,113.72 L565.96,112.32 L566.55,110.94 L567.17,109.58 L567.83,108.23 L568.54,106.91 L569.32,105.63 L570.16,104.39 L571.08,103.20 L572.08,102.09 L573.17,101.05 L574.34,100.12 L575.62,99.33 L577.03,98.85 L578.53,98.86 L579.97,99.26 L581.33,99.89 L582.62,100.66 L583.85,101.52 L585.02,102.45 L586.14,103.45 L587.20,104.50 L588.23,105.60 L589.22,106.73 L590.18,107.88 L591.13,109.04 L592.08,110.20 L593.04,111.35 L594.02,112.49 L595.06,113.57 L596.17,114.57 L597.38,115.46 L598.69,116.20 L600.07,116.78 L601.49,117.26 L602.93,117.67 L604.38,118.04 L605.84,118.42 L607.28,118.83 L608.70,119.32 L610.08,119.91 L611.41,120.60 L612.68,121.39 L613.90,122.26 L615.07,123.20 L616.19,124.20 L617.25,125.26 L618.28,126.35 L619.26,127.49 L620.20,128.65 L621.12,129.84 L622.00,131.06 L622.85,132.29 L623.68,133.54 L624.50,134.80 L625.30,136.07 L626.09,137.34 L626.87,138.62 L627.65,139.90 L628.44,141.18 L629.24,142.45 L630.04,143.71 L630.87,144.97 L631.70,146.21 L632.56,147.45 L633.42,148.67 L634.29,149.89 L635.18,151.10 L636.07,152.31 L636.96,153.51 L637.86,154.71 L638.77,155.91 L639.67,157.11 L640.58,158.30 L641.48,159.50 L642.39,160.70 L643.28,161.90 L644.18,163.10 L645.06,164.31 L645.94,165.53 L646.81,166.75 L647.67,167.99 L648.51,169.23 L649.34,170.48 L650.15,171.73 L650.96,173.00 L651.76,174.27 L652.55,175.54 L653.34,176.82 L654.14,178.09 L654.94,179.36 L655.75,180.62 L656.57,181.88 L657.40,183.13 L658.24,184.37 L659.08,185.61 L659.93,186.85 L660.77,188.09 L661.60,189.34 L662.43,190.59 L663.24,191.85 L664.04,193.12 L664.82,194.40 L665.57,195.70 L666.31,197.01 L667.03,198.32 L667.73,199.65 L668.42,200.98 L669.11,202.31 L669.78,203.65 L670.46,204.99 L671.13,206.33 L671.80,207.67 L672.48,209.01 L673.16,210.35 L673.85,211.68 L674.53,213.02 L675.22,214.35 L675.90,215.69 L676.57,217.03 L677.24,218.37 L677.90,219.72 L678.55,221.07 L679.18,222.43 L679.80,223.79 L680.41,225.17 L681.00,226.54 L681.60,227.92 L682.22,229.29 L682.86,230.65 L683.53,231.98 L684.25,233.30 L684.99,234.60 L685.77,235.89 L686.56,237.16 L687.38,238.42 L688.20,239.67 L689.04,240.92 L689.87,242.17 L690.71,243.41 L691.53,244.66 L692.35,245.92 L693.15,247.19 L693.94,248.47 L694.71,249.75 L695.47,251.05 L696.21,252.35 L696.95,253.66 L697.67,254.97 L698.38,256.29 L699.08,257.62 L699.77,258.95 L700.46,260.28 L701.14,261.62 L701.82,262.96 L702.50,264.30 L703.17,265.64 L703.84,266.98 L704.51,268.32 L705.18,269.66 L705.85,271.01 L706.52,272.35 L707.20,273.69 L707.87,275.03 L708.55,276.36 L709.24,277.70 L709.93,279.03 L710.62,280.36 L711.32,281.68 L712.03,283.01 L712.75,284.32 L713.47,285.64 L714.20,286.95 L714.94,288.26 L715.67,289.56 L716.41,290.87 L717.15,292.18 L717.88,293.48 L718.61,294.79 L719.34,296.11 L720.06,297.42 L720.77,298.74 L721.47,300.07 L722.16,301.40 L722.83,302.74 L723.49,304.09 L724.14,305.44 L724.76,306.81 L725.37,308.18 L725.97,309.55 L726.57,310.93 L727.18,312.30 L727.80,313.66 L728.45,315.02 L729.13,316.36 L729.83,317.68 L730.57,318.99 L731.32,320.28 L732.09,321.57 L732.87,322.85 L733.65,324.13 L734.43,325.41 L735.21,326.70 L735.98,327.99 L736.73,329.28 L737.48,330.58 L738.23,331.88 L738.96,333.19 L739.68,334.51 L740.40,335.82 L741.11,337.14 L741.82,338.47 L742.52,339.79 L743.21,341.13 L743.90,342.46 L744.58,343.80 L745.25,345.13 L745.92,346.48 L746.59,347.82 L747.25,349.17 L747.91,350.51 L748.57,351.86 L749.22,353.21 L749.87,354.56 L750.52,355.92 L751.17,357.27 L751.81,358.63 L752.45,359.98 L753.09,361.34 L753.73,362.69 L754.37,364.05 L755.01,365.41 L755.64,366.77 L756.28,368.13 L756.91,369.49 L757.54,370.85 L758.18,372.21 L758.81,373.57 L759.44,374.93 L760.07,376.29 L760.70,377.65 L761.34,379.01 L761.97,380.37 L762.60,381.73 L763.24,383.09 L763.87,384.45 L764.51,385.80 L765.15,387.16 L765.79,388.52 L766.43,389.88 L767.07,391.23 L767.72,392.59 L768.36,393.94 L769.01,395.29 L769.66,396.65 L770.31,398.00 L770.96,399.35 L771.61,400.70 L772.26,402.05 L772.92,403.40 L773.58,404.75 L774.24,406.09 L774.90,407.44 L775.56,408.79 L776.23,410.13 L776.89,411.47 L777.56,412.82 L778.23,414.16 L778.90,415.50 L779.58,416.84 L780.26,418.18 L780.93,419.52 L781.61,420.85 L782.30,422.19 L782.98,423.52 L783.67,424.86 L784.36,426.19 L785.05,427.52 L785.74,428.85 L786.44,430.18 L787.13,431.51 L787.83,432.84 L788.54,434.16 L789.24,435.48 L789.95,436.81 L790.66,438.13 L791.36,439.45 L792.07,440.78 L792.78,442.10 L793.48,443.42 L794.19,444.75 L794.89,446.08 L795.58,447.40 L796.27,448.74 L796.95,450.07 L797.63,451.41 L798.30,452.75 L798.96,454.10 L799.61,455.45 L800.25,456.81 L800.88,458.17 L801.50,459.54 L802.11,460.91 L802.71,462.28 L803.31,463.66 L803.91,465.03 L804.51,466.40 L805.13,467.77 L805.76,469.13 L806.40,470.49 L807.07,471.83 L807.75,473.17 L808.44,474.50 L809.14,475.82 L809.86,477.14 L810.58,478.46 L811.30,479.77 L812.02,481.09 L812.75,482.40 L813.47,483.72 L814.19,485.03 L814.91,486.35 L815.63,487.66 L816.35,488.98 L817.07,490.30 L817.78,491.62 L818.50,492.94 L819.21,494.26 L819.92,495.58 L820.63,496.90 L821.34,498.22 L822.05,499.54 L822.75,500.87 L823.46,502.19 L824.16,503.51 L824.87,504.84 L825.57,506.16 L826.28,507.49 L826.98,508.81 L827.68,510.14 L828.38,511.46 L829.08,512.79 L829.79,514.12 L830.49,515.44 L831.19,516.76 L831.90,518.09 L832.61,519.41 L833.32,520.73 L834.03,522.05 L834.75,523.37 L835.46,524.69 L836.19,526.00 L836.91,527.31 L837.64,528.62 L838.38,529.93 L839.12,531.24 L839.87,532.54 L840.62,533.84 L841.37,535.13 L842.14,536.42 L842.91,537.71 L843.68,538.99 L844.47,540.27 L845.26,541.54 L846.06,542.81 L846.87,544.08 L847.68,545.34 L848.49,546.60 L849.30,547.86 L850.12,549.12 L850.93,550.38 L851.74,551.64 L852.55,552.91 L853.35,554.18 L854.15,555.45 L854.93,556.73 L855.71,558.01 L856.47,559.30 L857.23,560.60 L857.97,561.90 L858.70,563.21 L859.42,564.52 L860.14,565.84 L860.85,567.16 L861.55,568.49 L862.25,569.82 L862.95,571.14 L863.64,572.47 L864.34,573.80 L865.03,575.13 L865.73,576.46 L866.42,577.79 L867.13,579.12 L867.83,580.44 L868.55,581.76 L869.27,583.07 L870.00,584.38 L870.74,585.69 L871.49,586.99 L872.25,588.28 L873.02,589.57 L873.81,590.84 L874.61,592.11 L875.42,593.37 L876.24,594.63 L877.07,595.88 L877.90,597.13 L878.74,598.37 L879.59,599.61 L880.44,600.84 L881.30,602.07 L882.16,603.30 L883.02,604.53 L883.88,605.76 L884.74,606.99 L885.60,608.22 L886.46,609.45 L887.31,610.68 L888.16,611.92 L889.01,613.16 L889.85,614.40 L890.68,615.65 L891.51,616.90 L892.32,618.16 L893.14,619.42 L893.94,620.68 L894.75,621.95 L895.55,623.22 L896.35,624.49 L897.15,625.76 L897.95,627.02 L898.75,628.29 L899.56,629.55 L900.38,630.81 L901.20,632.07 L902.03,633.32 L902.87,634.56 L903.72,635.79 L904.59,637.02 L905.47,638.23 L906.36,639.44 L907.27,640.63 L908.20,641.81 L909.14,642.98 L910.09,644.14 L911.05,645.29 L912.01,646.44 L912.97,647.60 L913.92,648.76 L914.86,649.93 L915.79,651.10 L916.70,652.29 L917.61,653.49 L918.50,654.69 L919.39,655.90 L920.28,657.11 L921.17,658.32 L922.06,659.53 L922.95,660.73 L923.85,661.93 L924.76,663.12 L925.67,664.32 L926.59,665.50 L927.50,666.69 L928.43,667.87 L929.35,669.06 L930.27,670.24 L931.20,671.42 L932.13,672.60 L933.05,673.78 L933.98,674.96 L934.90,676.14 L935.82,677.33 L936.74,678.51 L937.65,679.70 L938.56,680.89 L939.47,682.09 L940.37,683.29 L941.27,684.49 L942.17,685.69 L943.06,686.89 L943.96,688.10 L944.86,689.30 L945.76,690.50 L946.66,691.70 L947.57,692.89 L948.48,694.08 L949.40,695.27 L950.33,696.44 L951.26,697.62 L952.21,698.78 L953.17,699.94 L954.13,701.08 L955.12,702.22 L956.11,703.34 L957.12,704.45 L958.14,705.55 L959.17,706.64 L960.21,707.72 L961.25,708.80 L962.30,709.87 L963.35,710.94 L964.40,712.01 L965.45,713.09 L966.50,714.16 L967.54,715.24 L968.59,716.31 L969.65,717.37 L970.71,718.43 L971.79,719.47 L972.88,720.50 L973.99,721.51 L975.13,722.49 L976.28,723.45 L977.45,724.39 L978.63,725.32 L979.81,726.24 L981.00,727.16 L982.19,728.07 L983.37,728.99 L984.56,729.91 L985.74,730.83 L986.92,731.76 L988.10,732.68 L989.28,733.61 L990.46,734.54 L991.63,735.48 L992.80,736.42 L993.96,737.36 L995.12,738.31 L996.28,739.27 L997.43,740.23 L998.58,741.20 L999.72,742.17 L1000.85,743.15 L1001.98,744.14 L1003.10,745.14 L1004.21,746.15 L1005.32,747.16 L1006.42,748.18 L1007.51,749.21 L1008.60,750.24 L1009.69,751.27 L1010.78,752.30 L1011.88,753.32 L1012.98,754.34 L1014.09,755.35 L1015.21,756.35 L1016.34,757.34 L1017.48,758.30 L1018.65,759.25 L1019.82,760.18 L1021.01,761.10 L1022.22,761.99 L1023.43,762.87 L1024.66,763.73 L1025.89,764.58 L1027.14,765.42 L1028.39,766.25 L1029.65,767.06 L1030.92,767.87 L1032.19,768.66 L1033.46,769.45 L1034.74,770.23 L1036.03,771.01 L1037.31,771.78 L1038.60,772.55 L1039.89,773.32 L1041.18,774.09 L1042.46,774.86 L1043.75,775.63 L1045.04,776.41 L1046.32,777.18 L1047.60,777.95 L1048.89,778.73 L1050.17,779.50 L1051.46,780.28 L1052.74,781.05 L1054.03,781.83 L1055.31,782.60 L1056.60,783.37 L1057.89,784.13 L1059.18,784.90 L1060.47,785.66 L1061.77,786.42 L1063.07,787.17 L1064.37,787.92 L1065.67,788.66 L1066.97,789.40 L1068.28,790.14 L1069.59,790.86 L1070.91,791.59 L1072.23,792.30 L1073.55,793.01 L1074.88,793.70 L1076.21,794.39 L1077.55,795.07 L1078.90,795.73 L1080.25,796.38 L1081.61,797.00 L1082.98,797.61 L1084.36,798.20 L1085.75,798.77 L1087.15,799.31 L1088.56,799.82 L1089.98,800.31 L1091.41,800.76 L1092.85,801.19 L1094.30,801.58 L1095.75,801.94 L1097.21,802.29 L1098.67,802.63 L1100.13,802.97 L1101.59,803.32 L1103.05,803.69 L1104.50,804.07 L1105.94,804.49 L1107.36,804.95 L1108.78,805.45 L1110.17,806.01 L1111.54,806.61 L1112.90,807.25 L1114.25,807.91 L1115.61,808.54 L1116.98,809.15 L1118.38,809.69 L1119.80,810.17 L1121.24,810.60 L1122.69,810.99 L1124.14,811.35 L1125.60,811.69 L1127.06,812.03 L1128.52,812.37 L1129.98,812.72 L1131.44,813.08 L1132.90,813.44 L1134.35,813.81 L1135.80,814.18 L1137.26,814.55 L1138.71,814.93 L1140.16,815.31 L1141.61,815.69 L1143.06,816.08 L1144.51,816.47 L1145.96,816.85 L1147.41,817.24 L1148.85,817.63 L1150.30,818.02 L1151.75,818.40 L1153.20,818.79 L1154.65,819.17 L1156.10,819.55 L1157.56,819.93 L1159.01,820.30 L1160.46,820.67 L1161.92,821.04 L1163.37,821.40 L1164.83,821.75 L1166.29,822.10 L1167.75,822.44 L1169.21,822.77 L1170.68,823.10 L1172.14,823.41 L1173.61,823.72 L1175.08,824.02 L1176.55,824.32 L1178.03,824.60 L1179.50,824.88 L1180.98,825.14 L1182.45,825.41 L1183.93,825.66 L1185.41,825.91 L1186.89,826.15 L1188.37,826.39 L1189.86,826.62 L1191.34,826.84 L1192.82,827.07 L1194.31,827.28 L1195.79,827.49 L1197.28,827.70 L1198.76,827.91 L1200.25,828.11 L1201.74,828.30 L1203.22,828.50 L1204.71,828.69 L1206.20,828.88 L1207.69,829.07 L1209.18,829.26 L1210.66,829.44 L1212.15,829.62 L1213.64,829.80 L1215.13,829.98 L1216.62,830.15 L1218.11,830.32 L1219.60,830.49 L1221.09,830.66 L1222.58,830.82 L1224.08,830.98 L1225.57,831.14 L1227.06,831.30 L1228.55,831.45 L1230.04,831.60 L1231.54,831.75 L1233.03,831.90 L1234.52,832.04 L1236.02,832.18 L1237.51,832.32 L1239.00,832.45 L1240.50,832.59 L1241.99,832.71 L1243.49,832.84 L1244.98,832.97 L1246.48,833.09 L1247.97,833.21 L1249.47,833.33 L1250.96,833.46 L1252.46,833.58 L1253.95,833.71 L1255.45,833.84 L1256.94,833.98 L1258.43,834.12 L1259.93,834.27 L1261.42,834.43 L1262.91,834.60 L1264.40,834.78 L1265.88,834.97 L1267.37,835.17 L1268.86,835.39 L1270.34,835.62 L1271.82,835.86 L1273.29,836.12"/>
</g>
<rect x="94.8" y="61.7" width="1234.53" height="814.20" fill="none" stroke="#000" stroke-width="2.85"/>
</g>
<g stroke="#000" stroke-width="1.42"><line x1="150.94" y1="875.9" x2="150.94" y2="883.23"/><line x1="291.23" y1="875.9" x2="291.23" y2="883.23"/><line x1="431.52" y1="875.9" x2="431.52" y2="883.23"/><line x1="571.81" y1="875.9" x2="571.81" y2="883.23"/><line x1="712.10" y1="875.9" x2="712.10" y2="883.23"/><line x1="852.39" y1="875.9" x2="852.39" y2="883.23"/><line x1="992.68" y1="875.9" x2="992.68" y2="883.23"/><line x1="1132.97" y1="875.9" x2="1132.97" y2="883.23"/><line x1="1273.26" y1="875.9" x2="1273.26" y2="883.23"/><line x1="87.47" y1="839.00" x2="94.8" y2="839.00"/><line x1="87.47" y1="681.38" x2="94.8" y2="681.38"/><line x1="87.47" y1="523.75" x2="94.8" y2="523.75"/><line x1="87.47" y1="366.12" x2="94.8" y2="366.12"/><line x1="87.47" y1="208.50" x2="94.8" y2="208.50"/></g>
<g font-size="23.47"><text x="150.94" y="906.3" text-anchor="middle">-4</text><text x="291.23" y="906.3" text-anchor="middle">-3</text><text x="431.52" y="906.3" text-anchor="middle">-2</text><text x="571.81" y="906.3" text-anchor="middle">-1</text><text x="712.10" y="906.3" text-anchor="middle">0</text><text x="852.39" y="906.3" text-anchor="middle">1</text><text x="992.68" y="906.3" text-anchor="middle">2</text><text x="1132.97" y="906.3" text-anchor="middle">3</text><text x="1273.26" y="906.3" text-anchor="middle">4</text><text x="81.6" y="847.60" text-anchor="end">0.0</text><text x="81.6" y="689.98" text-anchor="end">0.1</text><text x="81.6" y="532.35" text-anchor="end">0.2</text><text x="81.6" y="374.73" text-anchor="end">0.3</text><text x="81.6" y="217.10" text-anchor="end">0.4</text></g>
<text x="712.06" y="940.1" font-size="29.33" text-anchor="middle">Scores</text>
<text transform="translate(35.4,469.7) rotate(-90)" font-size="29.33" text-anchor="middle">Density</text>
<text x="94.2" y="40.3" font-size="35.2">Normal vs. Skew-Normal Distributions with equal mean and SD</text>
</svg></div>
</body></html>
